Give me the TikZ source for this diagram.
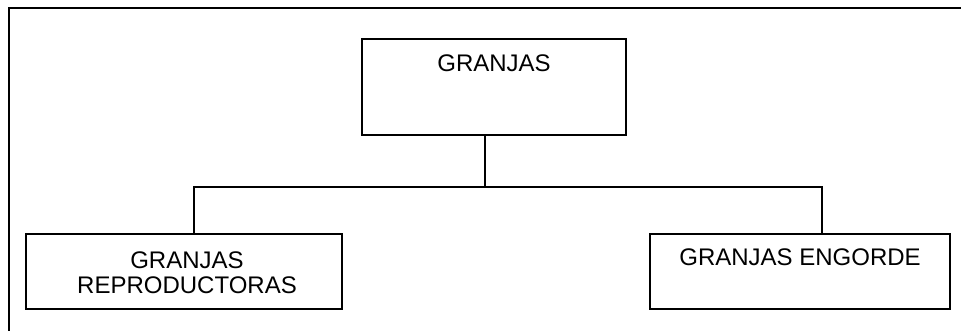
\documentclass[tikz,border=0pt]{standalone}
\usepackage{fontspec}
\setmainfont{Liberation Sans}
\usepackage{tikz}
\usetikzlibrary{positioning,calc}

\begin{document}
\begin{tikzpicture}[
    % GLOBAL CFG
    x=0.5pt, y=-0.5pt,
    font=\fontsize{12}{12.5}\selectfont,
    % Styles
    frame/.style={% outer frame, only top and left are seen
        draw,
        line width=1.2pt,
        },
    box/.style={% For the farm boxes
        rectangle,
        draw,
        line width=1pt,
        inner sep=0pt,
        },
    txt/.style={% text at the top of each box (base = last line)
        anchor=base,
        inner sep=0pt,
        align=center,
        },
    conn/.style={% lines of the tree
        line width=1pt,
        },
    ]

    % Page size and the frame
    \useasboundingbox (0,0) rectangle (961,331);
    \clip (0,0) rectangle (961,331);
    \draw [frame] (9,8) rectangle (1000,400);

    % Draw the boxes
    \node [box, minimum width=132pt, minimum height=48pt] (granjas) at (494,87) {};
    \node [box, minimum width=158pt, minimum height=37.5pt] (repro) at (184,271.5) {};
    \node [box, minimum width=150pt, minimum height=37.5pt] (engorde) at (800,271.5) {};

    % Texts, hung from the top of their box
    \node [txt] (granjasTxt) at ([yshift=-16.8pt]granjas.north) {GRANJAS};
    \node [txt] (reproTxt) at ([xshift=1.5pt, yshift=-30pt]repro.north) {GRANJAS\\REPRODUCTORAS};
    \node [txt] (engordeTxt) at ([yshift=-16.3pt]engorde.north) {GRANJAS ENGORDE};

    % Connecting all
    \draw [conn] ([xshift=-4.5pt]granjas.south) -- ++(0,-25.5pt) coordinate (bus);
    \draw [conn] ([xshift=5pt]repro.north) |- (bus) -| ([xshift=11pt]engorde.north);

\end{tikzpicture}
\end{document}
